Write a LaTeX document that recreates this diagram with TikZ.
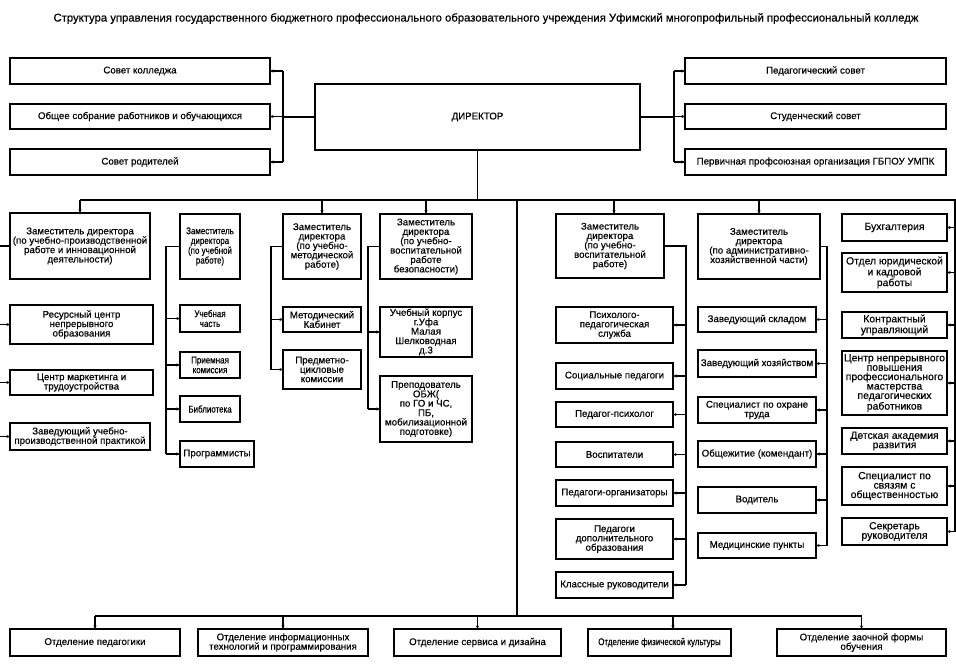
\documentclass[tikz,border=0pt]{standalone}
\usepackage{fontspec}
\setmainfont{Liberation Sans}[FakeBold=0.4]
\newfontfamily\condfont{Liberation Sans}[FakeBold=0.4,FakeStretch=0.82]
\usetikzlibrary{arrows.meta}
\newcommand\obox[7][]{\node[box, #1, minimum width={(#5)-(#3)}, minimum height={(#6)-(#4)}] (#2) at ({((#3)+(#5))/2},{((#4)+(#6))/2}) {#7};}
\begin{document}
\begin{tikzpicture}[x=1pt,y=-1pt,
 box/.style={draw, line width=1.8pt, align=center, inner sep=1pt, outer sep=0pt, font=\fontsize{9.7}{9.4}\selectfont},
 narrow/.style={font=\condfont\fontsize{9.7}{9.8}\selectfont},
 wide/.style={font=\fontsize{10.4}{9.4}\selectfont},
 conn/.style={line width=1.1pt},
 trunk/.style={line width=1.8pt},
 arr/.style={line width=1.1pt, -{Stealth[length=3.5pt,width=3pt]}}]
\useasboundingbox[fill=white] (0,0) rectangle (956,669);

\node[font=\fontsize{11.3}{13}\selectfont] (title) at (486,18.5) {Структура управления государственного бюджетного профессионального образовательного учреждения Уфимский многопрофильный профессиональный колледж};

% top row
\obox{sk}{10}{58}{270}{84}{Совет колледжа}
\obox{os}{10}{104}{270}{129}{Общее собрание работников и обучающихся}
\obox{sr}{10}{149}{270}{175}{Совет родителей}
\obox{dir}{315}{84}{640}{150}{ДИРЕКТОР}
\obox{ps}{685}{58}{946}{84}{Педагогический совет}
\obox{ss}{685}{104}{946}{129}{Студенческий совет}
\obox{pp}{685}{149}{946}{175}{Первичная профсоюзная организация ГБПОУ УМПК}

% deputies
\obox{d1}{10}{213}{150}{279}{Заместитель директора\\(по учебно-производственной\\работе и инновационной\\деятельности)}
\obox[narrow]{d2}{180}{214}{240}{279}{Заместитель\\директора\\(по учебной\\работе)}
\obox{d3}{283}{214}{361}{279}{Заместитель\\директора\\(по учебно-\\методической\\работе)}
\obox{d4}{380}{214}{472}{279}{Заместитель\\директора\\(по учебно-\\воспитательной\\работе\\безопасности)}
\obox{d5}{556}{214}{664}{278}{Заместитель\\директора\\(по учебно-\\воспитательной\\работе)}
\obox{d6}{698}{214}{820}{279}{Заместитель\\директора\\(по административно-\\хозяйственной части)}

% column 1
\obox{rc}{10}{305}{153}{344}{Ресурсный центр\\непрерывного\\образования}
\obox{cm}{10}{370}{153}{395}{Центр маркетинга и\\трудоустройства}
\obox{zp}{10}{423}{150}{450}{Заведующий учебно-\\производственной практикой}

% column 2
\obox[narrow]{uc}{180}{305}{240}{332}{Учебная\\часть}
\obox[narrow]{pk}{180}{352}{240}{378}{Приемная\\комиссия}
\obox[narrow]{bb}{180}{396}{240}{422}{Библиотека}
\obox{pr}{180}{441}{254}{467}{Программисты}

% column 3
\obox{mk}{283}{307}{361}{332}{Методический\\Кабинет}
\obox{pc}{283}{350}{361}{389}{Предметно-\\цикловые\\комиссии}

% column 4
\obox{uk}{380}{307}{472}{357}{Учебный корпус\\г.Уфа\\Малая\\Шелководная\\д.3}
\obox{obzh}{380}{376}{472}{442}{Преподователь\\ОБЖ(\\по ГО и ЧС,\\ПБ,\\мобилизационной\\подготовке)}

% column 5
\obox{pps}{556}{307}{673}{343}{Психолого-\\педагогическая\\служба}
\obox{sp}{556}{363}{673}{389}{Социальные педагоги}
\obox{pgp}{556}{402}{673}{427}{Педагог-психолог}
\obox{vo}{556}{442}{673}{467}{Воспитатели}
\obox{po}{556}{480}{673}{506}{Педагоги-организаторы}
\obox{pdo}{556}{519}{673}{559}{Педагоги\\дополнительного\\образования}
\obox{kr}{556}{572}{673}{598}{Классные руководители}

% column 6
\obox{zs}{698}{307}{816}{332}{Заведующий складом}
\obox{zh}{698}{350}{816}{377}{Заведующий хозяйством}
\obox{ot}{698}{397}{816}{423}{Специалист по охране\\труда}
\obox{ob}{698}{441}{816}{467}{Общежитие (комендант)}
\obox{vd}{698}{487}{816}{513}{Водитель}
\obox{mp}{698}{533}{816}{558}{Медицинские пункты}

% column 7
\obox[wide]{bu}{842}{214}{947}{241}{Бухгалтерия}
\obox[wide]{oy}{842}{253}{947}{292}{Отдел юридической\\и кадровой\\работы}
\obox[wide]{ku}{842}{312}{947}{338}{Контрактный\\управляющий}
\obox[wide]{cn}{842}{351}{947}{415}{Центр непрерывного\\повышения\\профессионального\\мастерства\\педагогических\\работников}
\obox[wide]{da}{842}{428}{947}{454}{Детская академия\\развития}
\obox[wide]{so}{842}{467}{947}{505}{Специалист по\\связям с\\общественностью}
\obox[wide]{sc}{842}{518}{947}{545}{Секретарь\\руководителя}

% departments
\obox{op}{10}{629}{180}{656}{Отделение педагогики}
\obox{oi}{198}{629}{368}{656}{Отделение информационных\\технологий и программирования}
\obox{osd}{394}{629}{561}{656}{Отделение сервиса и дизайна}
\obox[narrow]{ofk}{588}{629}{731}{656}{Отделение физической культуры}
\obox{oz}{777}{629}{946}{656}{Отделение заочной формы\\обучения}

% coordinates
\coordinate (lb) at (283,117);
\coordinate (rb) at (674,117);
\coordinate (tb) at (517,200);
\coordinate (tr) at (955,200);
\coordinate (bt) at (517,616);
\coordinate (l1) at (-1,0);
\coordinate (l2) at (166,0);
\coordinate (l3) at (271,0);
\coordinate (l4) at (368,0);
\coordinate (r5) at (686,0);
\coordinate (r6) at (827,0);

% top brackets
\draw[line width=1.5pt] (dir.west) -- (lb);
\draw[conn] (lb |- sk.east) -- (lb |- sr.east);
\foreach \b in {sk,os,sr} \draw[arr] (lb |- \b.east) -- (\b.east);
\draw[line width=1.5pt] (dir.east) -- (rb);
\draw[conn] (rb |- ps.west) -- (rb |- pp.west);
\foreach \b in {ps,ss,pp} \draw[arr] (rb |- \b.west) -- (\b.west);

% trunks
\draw[trunk] (dir.south) -- (dir.south |- tb);
\draw[conn] (d1.north |- tb) -- (tr) -- (tr |- sc.east);
\draw[trunk] (tb) -- (bt);
\draw[conn] (op.north |- bt) -- (oz.north |- bt);

% deputies from bus
\foreach \b in {d1,d3,d4,d6} \draw[arr] (\b.north |- tb) -- (\b.north);
\draw[arr] ([xshift=4pt]d5.north |- tb) -- ([xshift=4pt]d5.north);
\foreach \b in {bu,oy,ku,cn,da,so,sc} \draw[arr] (tr |- \b.east) -- (\b.east);

% departments
\foreach \b in {op,oi,osd,oz} \draw[arr] (\b.north |- bt) -- (\b.north);
\draw[arr] ([xshift=13.5pt]ofk.north |- bt) -- ([xshift=13.5pt]ofk.north);

% column groups
\draw[conn] (d1.west) -- (d1.west -| l1) -- (l1 |- zp.west);
\foreach \b in {rc,cm,zp} \draw[arr] (l1 |- \b.west) -- (\b.west);
\draw[conn] (d2.west) -- (d2.west -| l2) -- (l2 |- pr.west);
\foreach \b in {uc,pk,bb,pr} \draw[arr] (l2 |- \b.west) -- (\b.west);
\draw[conn] (d3.west) -- (d3.west -| l3) -- (l3 |- pc.west);
\foreach \b in {mk,pc} \draw[arr] (l3 |- \b.west) -- (\b.west);
\draw[conn] (d4.west) -- (d4.west -| l4) -- (l4 |- obzh.west);
\foreach \b in {uk,obzh} \draw[arr] (l4 |- \b.west) -- (\b.west);
\draw[conn] (d5.east) -- (d5.east -| r5) -- (r5 |- kr.east);
\foreach \b in {pps,sp,pgp,vo,po,pdo,kr} \draw[arr] (r5 |- \b.east) -- (\b.east);
\draw[conn] (d6.east) -- (d6.east -| r6) -- (r6 |- mp.east);
\foreach \b in {zs,zh,ot,ob,vd,mp} \draw[arr] (r6 |- \b.east) -- (\b.east);
\end{tikzpicture}
\end{document}
